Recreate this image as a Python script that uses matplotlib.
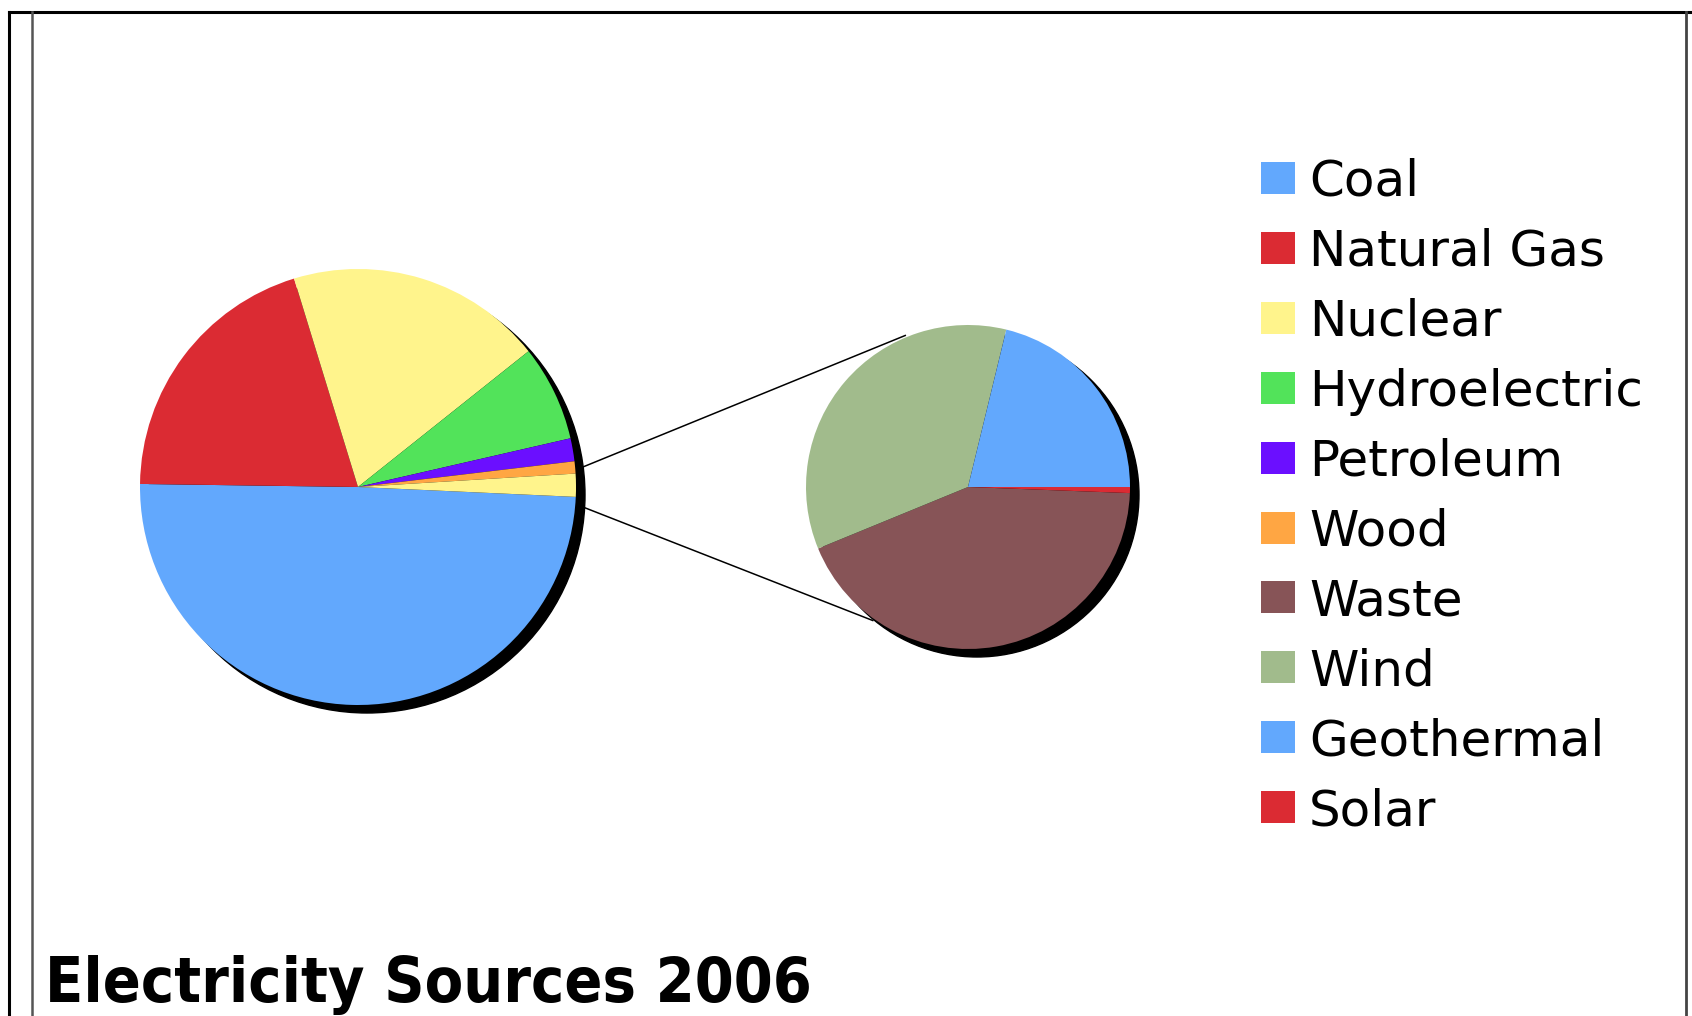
import matplotlib
matplotlib.use("Agg")
import matplotlib.pyplot as plt
from matplotlib.patches import Circle, Rectangle
import numpy as np

# main pie (percent of 2006 generation), clockwise from the "other" wedge
main_labels = ["Coal", "Natural Gas", "Nuclear", "Hydroelectric", "Petroleum", "Wood", "Other"]
main_values = [49.4, 20.0, 19.0, 7.1, 1.7, 0.9, 1.7]

# breakdown of the "other" wedge
sub_labels = ["Waste", "Wind", "Geothermal", "Solar"]
sub_values = [43.2, 35.0, 21.2, 0.6]

legend_labels = ["Coal", "Natural Gas", "Nuclear", "Hydroelectric", "Petroleum",
                 "Wood", "Waste", "Wind", "Geothermal", "Solar"]

colors = {
    "Coal": "#62a8fd", "Natural Gas": "#db2b33", "Nuclear": "#fff48c",
    "Hydroelectric": "#52e35a", "Petroleum": "#6b0fff", "Wood": "#ffa643",
    "Other": "#fff48c", "Waste": "#875457", "Wind": "#a1bb8c",
    "Geothermal": "#62a8fd", "Solar": "#db2b33",
}

W, H = 1692, 1016
fig = plt.figure(figsize=(W / 100, H / 100), dpi=100)
ax = fig.add_axes([0, 0, 1, 1])

c1, r1 = (358, 529), 218
c2, r2 = (968, 529), 162
shadow = (9, -8)

# shadows
for c, r in [(c1, r1), (c2, r2)]:
    ax.add_patch(Circle((c[0] + shadow[0], c[1] + shadow[1]), r, color="black", zorder=0.5))

ax.pie(main_values, colors=[colors[l] for l in main_labels], center=c1, radius=r1,
       startangle=-2.6, counterclock=False, wedgeprops=dict(linewidth=0))
solar_deg = sub_values[-1] / sum(sub_values) * 360
ax.pie(sub_values, colors=[colors[l] for l in sub_labels], center=c2, radius=r2,
       startangle=-solar_deg, counterclock=False, wedgeprops=dict(linewidth=0))

# connector lines
for a1, a2 in [(5.1, 112.5), (-5.1, 234.5)]:
    p1 = (c1[0] + 226 * np.cos(np.radians(a1)), c1[1] + 226 * np.sin(np.radians(a1)))
    p2 = (c2[0] + 164 * np.cos(np.radians(a2)), c2[1] + 164 * np.sin(np.radians(a2)))
    ax.plot([p1[0], p2[0]], [p1[1], p2[1]], color="black", lw=1.1, zorder=0.4)

# legend
for i, lab in enumerate(legend_labels):
    yc = H - (178 + 69.9 * i)
    ax.add_patch(Rectangle((1261, yc - 16), 34, 32, facecolor=colors[lab], edgecolor="none"))
    ax.text(1309, yc - 18, lab, fontsize=36, family="DejaVu Sans", va="baseline", ha="left")

ax.text(45, H - 1002, "Electricity Sources 2006", fontsize=45, fontweight="bold",
        fontstretch="condensed", family="DejaVu Sans", va="baseline", ha="left")

# frame
ax.plot([9, 9], [0, H - 12], color="black", lw=2.2, clip_on=False)
ax.plot([9, W], [H - 12, H - 12], color="black", lw=2.2, clip_on=False)
ax.plot([32, 32], [0, H - 12], color="#555555", lw=1.8, clip_on=False)
ax.plot([1686, 1686], [0, H - 12], color="#444444", lw=2.0, clip_on=False)

ax.set_xlim(0, W)
ax.set_ylim(0, H)
ax.set_aspect("equal")
ax.axis("off")
fig.savefig("out.png", dpi=100, facecolor="white")
